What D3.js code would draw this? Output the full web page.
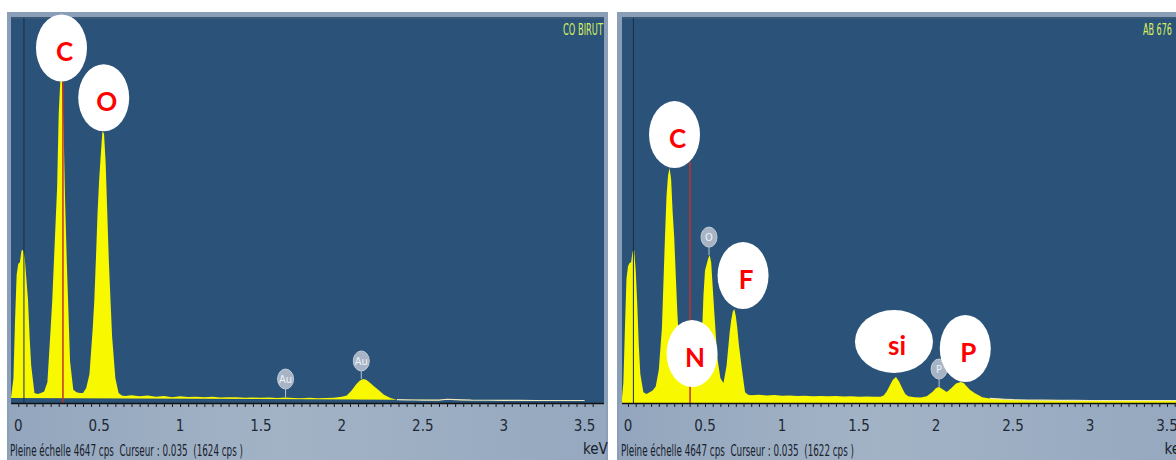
<!DOCTYPE html>
<html>
<head>
<meta charset="utf-8">
<script src="https://cdn.jsdelivr.net/npm/d3@7/dist/d3.min.js"></script>
<style>
  body { margin: 0; background: #ffffff; }
  svg { display: block; }
</style>
</head>
<body>
<script>
'use strict';

// ---- data (energy in keV, counts in cps) ----
const fullScale = 4647;
const tickLabels = ["0", "0.5", "1", "1.5", "2", "2.5", "3", "3.5"];

const leftEnergy = [-0.045,-0.03,-0.02,-0.01,0,0.01,0.02,0.03,0.04,0.05,0.06,0.07,0.08,0.1,0.12,0.14,0.16,0.18,
  0.2,0.21,0.22,0.24,0.25,0.26,0.27,0.28,0.29,0.3,0.32,0.34,0.36,0.38,0.4,0.42,0.44,0.46,0.47,0.48,0.49,0.5,
  0.51,0.52,0.53,0.54,0.55,0.56,0.57,0.58,0.6,0.62,0.64,0.66,0.7,0.75,0.8,0.85,0.9,0.95,1,1.05,1.1,1.15,1.2,
  1.25,1.3,1.35,1.4,1.45,1.5,1.55,1.6,1.65,1.7,1.75,1.8,1.85,1.9,1.95,2,2.03,2.06,2.09,2.11,2.13,2.15,2.17,
  2.2,2.23,2.26,2.3,2.34,2.4,2.45,2.5,2.6,2.65,2.7,2.8,2.9,3,3.1,3.2,3.3,3.4,3.5,3.62];
const leftCounts = [60,300,1000,1550,1680,1700,1840,1846,1750,1500,1250,800,450,120,110,120,140,250,
  900,1240,1700,2600,3500,3900,3880,3300,2400,1700,500,160,130,120,120,180,350,900,1240,1750,2300,2700,
  3000,3280,3250,2900,2300,1700,1240,800,300,120,90,85,95,80,90,75,85,70,80,72,75,68,74,
  66,70,68,64,66,62,65,60,66,60,58,62,56,60,64,75,90,150,230,270,290,280,250,
  200,150,100,60,40,38,36,35,34,45,40,34,33,32,31,30,30,30,30];

const rightEnergy = [-0.039,-0.03,-0.02,-0.01,0,0.01,0.02,0.03,0.04,0.05,0.06,0.07,0.08,0.1,0.12,0.14,0.16,0.18,
  0.2,0.22,0.24,0.25,0.26,0.27,0.28,0.29,0.3,0.32,0.34,0.36,0.38,0.4,0.42,0.44,0.46,0.48,0.49,0.5,0.52,0.53,
  0.54,0.55,0.56,0.58,0.6,0.62,0.64,0.66,0.67,0.68,0.69,0.7,0.71,0.72,0.74,0.76,0.78,0.8,0.85,0.9,0.95,1,
  1.05,1.1,1.15,1.2,1.25,1.3,1.35,1.4,1.45,1.5,1.55,1.6,1.64,1.66,1.68,1.7,1.72,1.74,1.76,1.78,1.8,1.82,
  1.86,1.9,1.94,1.98,2,2.02,2.04,2.07,2.1,2.13,2.16,2.18,2.2,2.22,2.25,2.28,2.3,2.35,2.4,2.45,2.5,2.6,
  2.7,2.8,2.9,3,3.1,3.2,3.3,3.4,3.5,3.62];
const rightCounts = [60,250,900,1500,1650,1690,1700,1830,1846,1600,1200,700,350,130,110,130,150,200,
  400,900,2000,2500,2750,2835,2700,2300,2000,1100,450,240,210,200,220,240,400,800,1300,1600,1740,1785,
  1700,1400,1100,550,300,240,450,850,1000,1100,1134,1050,900,700,400,130,100,95,100,92,96,88,
  92,85,88,82,86,80,84,78,80,76,78,74,75,90,140,210,280,314,260,180,110,80,
  70,65,80,140,180,193,170,133,180,235,253,240,200,160,120,90,70,55,50,45,40,36,
  34,32,31,30,30,30,30,30,30,30];

// annotations: white bubbles with red element symbols, and the small grey software tags
const leftBubbleText = ["C", "O"];
const leftBubbleEnergy = [0.267, 0.528];
const leftBubbleCounts = [3880, 3280];
const rightBubbleText = ["C", "N", "F", "si", "P"];
const rightBubbleEnergy = [0.302, 0.416, 0.747, 1.727, 2.19];
const rightBubbleCounts = [2835, 193, 1134, 362, 253];

const leftTagText = ["Au", "Au"];
const leftTagEnergy = [1.652, 2.12];
const leftTagCounts = [72, 290];
const rightTagText = ["O", "P"];
const rightTagEnergy = [0.526, 2.02];
const rightTagCounts = [1785, 193];

const cursorEnergy = 0.035;
const leftCursorRed = [0.276, 3880];
const rightCursorRed = [0.403, 2909];

const panels = [
  { x0: 7, x1: 608, px0: 11, px1: 604, domain: [-0.045, 3.62], range: [11, 604],
    energy: leftEnergy, counts: leftCounts, name: "CO BIRUT", nameX: 563, nameLen: 40,
    cps: 1624, bubbleText: leftBubbleText, bubbleEnergy: leftBubbleEnergy, bubbleCounts: leftBubbleCounts,
    tagText: leftTagText, tagEnergy: leftTagEnergy, tagCounts: leftTagCounts, red: leftCursorRed },
  { x0: 617, x1: 1190, px0: 622, px1: 1186, domain: [-0.039, 3.62], range: [622, 1185.5],
    energy: rightEnergy, counts: rightCounts, name: "AB 676", nameX: 1143, nameLen: 29,
    cps: 1622, bubbleText: rightBubbleText, bubbleEnergy: rightBubbleEnergy, bubbleCounts: rightBubbleCounts,
    tagText: rightTagText, tagEnergy: rightTagEnergy, tagCounts: rightTagCounts, red: rightCursorRed }
];

const frameTop = 12, plotTop = 18, axisY = 403, frameBottom = 460;
const narrow = "'Liberation Sans Narrow', 'DejaVu Sans Condensed', 'Arial Narrow', sans-serif";

const svg = d3.select('body').append('svg')
  .attr('width', 1176)
  .attr('height', 460);

const defs = svg.append('defs');
let grad = defs.append('linearGradient').attr('id', 'foot').attr('x1', 0).attr('x2', 1).attr('y1', 0).attr('y2', 0);
grad.append('stop').attr('offset', '0%').attr('stop-color', '#93a6bd');
grad.append('stop').attr('offset', '45%').attr('stop-color', '#a3b3c6');
grad.append('stop').attr('offset', '100%').attr('stop-color', '#95a8bf');

const yScale = d3.scaleLinear().domain([0, fullScale]).range([axisY, plotTop]);

panels.forEach((p, i) => drawPanel(p, i));

function drawPanel(p, i) {
  let g = svg.append('g');
  let xScale = d3.scaleLinear().domain(p.domain).range(p.range);

  // frame + plot background + footer
  g.append('rect').attr('x', p.x0).attr('y', frameTop).attr('width', p.x1 - p.x0).attr('height', frameBottom - frameTop)
    .attr('fill', '#8a9eb8');
  g.append('rect').attr('x', p.px0).attr('y', plotTop - 1).attr('width', p.px1 - p.px0).attr('height', axisY - plotTop + 1)
    .attr('fill', '#2b5379');
  g.append('rect').attr('x', p.px0).attr('y', plotTop - 1).attr('width', p.px1 - p.px0).attr('height', 2)
    .attr('fill', '#3b5876');
  g.append('rect').attr('x', p.x0 + 2).attr('y', axisY).attr('width', p.x1 - p.x0 - 4).attr('height', frameBottom - axisY)
    .attr('fill', 'url(#foot)');

  defs.append('clipPath').attr('id', 'clip' + i)
    .append('rect').attr('x', p.px0).attr('y', plotTop).attr('width', p.px1 - p.px0).attr('height', axisY - plotTop);

  let plot = g.append('g').attr('clip-path', 'url(#clip' + i + ')');

  let rows = p.energy.map((e, k) => ({ e: e, c: p.counts[k] }));
  let area = d3.area()
    .x(d => xScale(d.e))
    .y0(axisY)
    .y1(d => yScale(d.c))
    .curve(d3.curveLinear);

  plot.append('path').datum(rows)
    .attr('d', area)
    .attr('fill', '#f8f800');

  // thin pale trace on the flat tail
  plot.append('path').datum(rows.filter(d => d.e > 2.3))
    .attr('d', d3.line().x(d => xScale(d.e)).y(d => yScale(d.c)))
    .attr('fill', 'none').attr('stroke', '#efe9bd').attr('stroke-width', 1.2);

  // cursor at 0.035 keV (dark) and red marker
  plot.append('line')
    .attr('x1', xScale(cursorEnergy)).attr('x2', xScale(cursorEnergy))
    .attr('y1', plotTop).attr('y2', axisY)
    .attr('stroke', '#1b2d42').attr('stroke-width', 1);
  plot.append('line')
    .attr('x1', xScale(p.red[0])).attr('x2', xScale(p.red[0]))
    .attr('y1', yScale(p.red[1])).attr('y2', axisY)
    .attr('stroke', '#c0322a').attr('stroke-width', 1.5);

  // axis with minor ticks every 0.05 keV
  let minor = d3.range(0, 72).map(k => k * 0.05);
  let axis = d3.axisBottom(xScale).tickValues(minor).tickSize(4).tickFormat('');
  let ag = g.append('g').attr('transform', 'translate(0,' + axisY + ')').call(axis);
  ag.select('.domain').attr('d', 'M' + p.px0 + ',0.5H' + p.px1).attr('stroke', '#111').attr('stroke-width', 1.5);
  ag.selectAll('.tick line').attr('stroke', '#1a1a1a');

  g.selectAll('.tickLabel' + i)
    .data(tickLabels)
    .enter()
    .append('text')
    .attr('x', d => xScale(+d))
    .attr('y', 431)
    .attr('text-anchor', 'middle')
    .attr('font-family', narrow)
    .attr('font-size', 15)
    .attr('fill', '#1d2835')
    .text(d => d);

  // footer text
  g.append('text')
    .attr('x', p.px0 - 1).attr('y', 456)
    .attr('font-family', narrow).attr('font-size', 16).attr('fill', '#17212c')
    .attr('textLength', 233).attr('lengthAdjust', 'spacingAndGlyphs')
    .style('white-space', 'pre')
    .text('Pleine échelle 4647 cps  Curseur : 0.035  (' + p.cps + ' cps )');
  g.append('text')
    .attr('x', xScale(3.62) - 21).attr('y', 454)
    .attr('font-family', narrow).attr('font-size', 15).attr('fill', '#17212c')
    .text('keV');

  // sample name, top right
  g.append('text')
    .attr('x', p.nameX).attr('y', 35)
    .attr('font-family', narrow).attr('font-size', 15).attr('fill', '#d8f060')
    .attr('textLength', p.nameLen).attr('lengthAdjust', 'spacingAndGlyphs')
    .text(p.name);

  // grey software tags
  p.tagText.forEach((t, k) => {
    let tx = xScale(p.tagEnergy[k]);
    let ty = yScale(p.tagCounts[k]);
    g.append('line').attr('x1', tx).attr('x2', tx).attr('y1', ty - 8).attr('y2', ty)
      .attr('stroke', '#b8c4d2').attr('stroke-width', 1);
    g.append('ellipse').attr('cx', tx).attr('cy', ty - 18).attr('rx', 8).attr('ry', 10)
      .attr('fill', '#a7b4c6').attr('stroke', '#c3ccd8').attr('stroke-width', 1);
    g.append('text').attr('x', tx).attr('y', ty - 14)
      .attr('text-anchor', 'middle').attr('font-family', narrow).attr('font-size', 11)
      .attr('fill', '#eef2f6').text(t);
  });

  // white bubbles with red element symbols
  p.bubbleText.forEach((t, k) => {
    let bx = xScale(p.bubbleEnergy[k]);
    let by = yScale(p.bubbleCounts[k]);
    let wide = t === 'si';
    let rx = wide ? 39 : 25.5;
    let ry = wide ? 31.5 : 33.5;
    g.append('ellipse').attr('cx', bx).attr('cy', by - ry).attr('rx', rx).attr('ry', ry)
      .attr('fill', '#ffffff');
    g.append('text').attr('x', bx + 3).attr('y', by - ry + 13)
      .attr('text-anchor', 'middle')
      .attr('font-family', "Lato, 'Open Sans', sans-serif").attr('font-weight', 700)
      .attr('font-size', 26).attr('fill', '#ff0000')
      .text(t);
  });
}
</script>
</body>
</html>
